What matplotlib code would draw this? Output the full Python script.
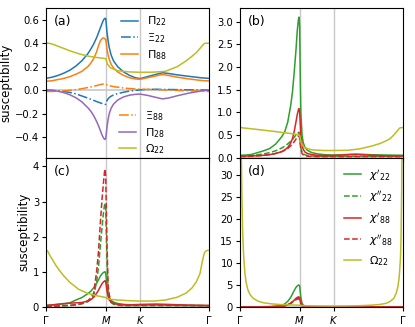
import numpy as np
import matplotlib
matplotlib.use("Agg")
import matplotlib.pyplot as plt

# path Gamma-M-K-Gamma, in units of |Gamma M|
path_ticks = [0, 1.0, 1.577, 2.732]
path_labels = [r'$\Gamma$', r'$M$', r'$K$', r'$\Gamma$']

# sample positions along the path
xq = [0, 0.1, 0.2, 0.3, 0.4, 0.5, 0.6, 0.7, 0.75, 0.8,
      0.85, 0.88, 0.91, 0.94, 0.96, 0.98, 0.99, 1.0, 1.01, 1.02,
      1.04, 1.06, 1.09, 1.13, 1.2, 1.3, 1.4, 1.5, 1.577, 1.7,
      1.85, 1.95, 2.05, 2.2, 2.4, 2.6, 2.732]
xom = [0, 0.01, 0.02, 0.03, 0.045, 0.06, 0.08, 0.1, 0.13, 0.17,
       0.22, 0.3, 0.4, 0.55, 0.7, 0.85, 0.95, 1.0, 1.03, 1.08,
       1.2, 1.4, 1.577, 1.8, 2.0, 2.2, 2.35, 2.45, 2.52, 2.58,
       2.62, 2.65, 2.67, 2.69, 2.70, 2.71, 2.72, 2.732]

# panel (a)
pi22 = [0.10, 0.11, 0.125, 0.145, 0.17, 0.205, 0.25, 0.31, 0.35, 0.395,
        0.45, 0.49, 0.53, 0.57, 0.595, 0.61, 0.612, 0.61, 0.56, 0.5,
        0.42, 0.36, 0.30, 0.25, 0.20, 0.155, 0.125, 0.105, 0.098, 0.115,
        0.135, 0.148, 0.142, 0.13, 0.117, 0.105, 0.10]
xi22 = [0.0, -0.002, -0.006, -0.012, -0.02, -0.032, -0.05, -0.068, -0.078, -0.088,
        -0.098, -0.104, -0.109, -0.115, -0.119, -0.122, -0.123, -0.12, -0.105, -0.09,
        -0.075, -0.063, -0.052, -0.042, -0.03, -0.018, -0.008, -0.002, 0.002, 0.006,
        0.007, 0.006, 0.005, 0.004, 0.002, 0.001, 0.0]
pi88 = [0.075, 0.08, 0.09, 0.10, 0.115, 0.135, 0.16, 0.20, 0.23, 0.27,
        0.33, 0.38, 0.42, 0.44, 0.445, 0.44, 0.435, 0.43, 0.40, 0.35,
        0.30, 0.26, 0.22, 0.19, 0.155, 0.125, 0.105, 0.095, 0.092, 0.105,
        0.122, 0.133, 0.125, 0.11, 0.095, 0.082, 0.078]
xi88 = [-0.012, -0.011, -0.009, -0.006, -0.002, 0.004, 0.012, 0.022, 0.027, 0.033,
        0.039, 0.043, 0.047, 0.05, 0.052, 0.053, 0.053, 0.052, 0.048, 0.045,
        0.041, 0.038, 0.034, 0.03, 0.025, 0.018, 0.013, 0.01, 0.008, 0.006,
        0.004, 0.002, 0.0, -0.003, -0.006, -0.01, -0.012]
pi28 = [0.0, -0.003, -0.01, -0.022, -0.04, -0.065, -0.10, -0.15, -0.18, -0.22,
        -0.27, -0.305, -0.345, -0.385, -0.405, -0.42, -0.42, -0.41, -0.37, -0.32,
        -0.25, -0.20, -0.155, -0.12, -0.085, -0.058, -0.043, -0.036, -0.034, -0.045,
        -0.063, -0.075, -0.068, -0.048, -0.025, -0.008, 0.0]
om_a = [0.40, 0.40, 0.40, 0.40, 0.399, 0.398, 0.396, 0.393, 0.388, 0.38,
        0.37, 0.355, 0.335, 0.31, 0.29, 0.278, 0.272, 0.268, 0.22, 0.19,
        0.165, 0.155, 0.152, 0.153, 0.16, 0.20, 0.25, 0.29, 0.32, 0.355,
        0.38, 0.395, 0.40, 0.40, 0.40, 0.40, 0.40, 0.40]

# panel (b)
chi1_22_b = [0.05, 0.055, 0.07, 0.11, 0.15, 0.20, 0.30, 0.46, 0.57, 0.78,
             1.15, 1.45, 1.9, 2.4, 2.8, 3.05, 3.1, 2.9, 1.8, 1.0,
             0.5, 0.33, 0.22, 0.16, 0.11, 0.08, 0.065, 0.058, 0.055, 0.06,
             0.07, 0.075, 0.07, 0.062, 0.056, 0.052, 0.05]
chi2_22_b = [0.03, 0.035, 0.045, 0.06, 0.08, 0.11, 0.15, 0.21, 0.25, 0.30,
             0.36, 0.40, 0.45, 0.50, 0.53, 0.55, 0.56, 0.50, 0.35, 0.22,
             0.12, 0.08, 0.06, 0.045, 0.035, 0.03, 0.03, 0.03, 0.03, 0.03,
             0.03, 0.03, 0.03, 0.03, 0.03, 0.03, 0.03]
chi1_88_b = [0.03, 0.032, 0.036, 0.042, 0.05, 0.065, 0.09, 0.13, 0.17, 0.22,
             0.32, 0.42, 0.58, 0.80, 0.95, 1.06, 1.08, 1.0, 0.75, 0.5,
             0.28, 0.18, 0.12, 0.09, 0.065, 0.05, 0.045, 0.045, 0.047, 0.055,
             0.065, 0.068, 0.063, 0.05, 0.04, 0.035, 0.03]
chi2_88_b = [0.02, 0.022, 0.028, 0.036, 0.048, 0.065, 0.09, 0.13, 0.16, 0.20,
             0.26, 0.30, 0.35, 0.41, 0.45, 0.48, 0.48, 0.42, 0.30, 0.18,
             0.09, 0.06, 0.04, 0.03, 0.025, 0.02, 0.02, 0.02, 0.02, 0.02,
             0.02, 0.02, 0.02, 0.02, 0.02, 0.02, 0.02]
om_b = [0.66, 0.66, 0.66, 0.658, 0.655, 0.653, 0.65, 0.647, 0.643, 0.637,
        0.63, 0.618, 0.603, 0.58, 0.555, 0.53, 0.51, 0.49, 0.30, 0.22,
        0.17, 0.155, 0.155, 0.16, 0.19, 0.25, 0.31, 0.37, 0.42, 0.50,
        0.56, 0.61, 0.64, 0.66, 0.66, 0.66, 0.66, 0.66]

# panel (c)
chi1_22_c = [0.05, 0.06, 0.075, 0.09, 0.12, 0.20, 0.27, 0.38, 0.45, 0.55,
             0.68, 0.78, 0.88, 0.95, 0.98, 1.0, 1.0, 0.97, 0.8, 0.6,
             0.38, 0.27, 0.19, 0.14, 0.10, 0.075, 0.065, 0.06, 0.06, 0.06,
             0.06, 0.058, 0.055, 0.05, 0.045, 0.04, 0.04]
chi2_22_c = [0.02, 0.025, 0.03, 0.035, 0.045, 0.06, 0.09, 0.15, 0.22, 0.33,
             0.75, 1.15, 1.75, 2.3, 2.65, 2.9, 2.95, 2.8, 2.1, 1.4,
             0.5, 0.28, 0.13, 0.08, 0.05, 0.04, 0.04, 0.04, 0.04, 0.04,
             0.04, 0.04, 0.04, 0.04, 0.04, 0.04, 0.04]
chi1_88_c = [0.04, 0.06, 0.08, 0.10, 0.11, 0.12, 0.13, 0.17, 0.21, 0.28,
             0.40, 0.48, 0.58, 0.67, 0.71, 0.74, 0.75, 0.72, 0.6, 0.47,
             0.30, 0.20, 0.14, 0.10, 0.08, 0.065, 0.06, 0.07, 0.075, 0.08,
             0.085, 0.08, 0.075, 0.065, 0.055, 0.05, 0.045]
chi2_88_c = [0.02, 0.025, 0.03, 0.04, 0.05, 0.07, 0.10, 0.18, 0.26, 0.40,
             1.05, 1.6, 2.4, 3.1, 3.5, 3.85, 3.92, 3.7, 2.8, 1.9,
             0.6, 0.35, 0.15, 0.1, 0.07, 0.05, 0.045, 0.05, 0.055, 0.06,
             0.065, 0.06, 0.055, 0.05, 0.045, 0.04, 0.035]
om_c = [1.61, 1.61, 1.60, 1.58, 1.53, 1.48, 1.42, 1.37, 1.28, 1.17,
        1.05, 0.88, 0.70, 0.50, 0.39, 0.32, 0.29, 0.27, 0.24, 0.22,
        0.20, 0.18, 0.17, 0.17, 0.20, 0.28, 0.40, 0.55, 0.72, 0.95,
        1.30, 1.52, 1.58, 1.60, 1.61, 1.61, 1.61, 1.61]

# panel (d)
chi1_22_d = [0.02, 0.03, 0.04, 0.06, 0.08, 0.12, 0.2, 0.4, 0.7, 1.3,
             2.2, 3.0, 3.8, 4.5, 4.8, 5.0, 5.0, 4.8, 3.5, 2.2,
             0.9, 0.45, 0.25, 0.15, 0.1, 0.07, 0.05, 0.05, 0.05, 0.05,
             0.05, 0.05, 0.05, 0.05, 0.05, 0.05, 0.05]
chi2_22_d = [0.01, 0.015, 0.02, 0.03, 0.04, 0.06, 0.1, 0.2, 0.3, 0.5,
             0.8, 1.1, 1.4, 1.65, 1.75, 1.8, 1.8, 1.7, 1.2, 0.7,
             0.3, 0.15, 0.08, 0.05, 0.04, 0.03, 0.03, 0.03, 0.03, 0.03,
             0.03, 0.03, 0.03, 0.03, 0.03, 0.03, 0.03]
chi1_88_d = [0.02, 0.025, 0.03, 0.04, 0.05, 0.07, 0.1, 0.15, 0.25, 0.45,
             0.85, 1.2, 1.6, 2.0, 2.2, 2.3, 2.3, 2.1, 1.5, 0.9,
             0.4, 0.2, 0.12, 0.08, 0.06, 0.05, 0.05, 0.05, 0.05, 0.05,
             0.05, 0.05, 0.05, 0.05, 0.05, 0.05, 0.05]
chi2_88_d = [0.01, 0.015, 0.02, 0.03, 0.04, 0.06, 0.1, 0.2, 0.3, 0.5,
             0.9, 1.25, 1.6, 1.85, 1.95, 2.0, 2.0, 1.9, 1.3, 0.8,
             0.3, 0.15, 0.08, 0.05, 0.04, 0.03, 0.03, 0.03, 0.03, 0.03,
             0.03, 0.03, 0.03, 0.03, 0.03, 0.03, 0.03]
om_d = [90, 60, 38, 26, 17, 12, 8.0, 5.8, 4.0, 2.8,
        2.0, 1.35, 0.95, 0.7, 0.55, 0.48, 0.44, 0.42, 0.36, 0.31,
        0.27, 0.25, 0.24, 0.26, 0.30, 0.42, 0.60, 0.85, 1.3, 2.0,
        3.2, 4.8, 7.0, 11, 16, 26, 45, 90]

plt.rcParams['font.family'] = 'DejaVu Sans'
plt.rcParams['mathtext.fontset'] = 'dejavusans'
lw = 1.1
grey = '#c8c8c8'

fig, axs = plt.subplots(2, 2, figsize=(4.15, 3.27), dpi=100, sharex=True)
fig.subplots_adjust(left=0.111, right=0.971, top=0.9755, bottom=0.061,
                    hspace=0, wspace=0.19)

for ax in axs.flat:
    ax.axvline(1.0, color=grey, lw=1, zorder=0)
    ax.axvline(1.577, color=grey, lw=1, zorder=0)
    ax.axhline(0, color=grey, lw=1.2, zorder=0)
    ax.set_xlim(0, 2.732)
    ax.set_xticks(path_ticks)
    ax.tick_params(labelsize=7.2, length=3, pad=2)
axs[1, 0].set_xticklabels(path_labels)

# (a)
ax = axs[0, 0]
l1, = ax.plot(xq, pi22, color='C0', lw=lw, label=r'$\Pi_{22}$')
l2, = ax.plot(xq, xi22, color='C0', lw=lw, ls='-.', label=r'$\Xi_{22}$')
l3, = ax.plot(xq, pi88, color='C1', lw=lw, label=r'$\Pi_{88}$')
l4, = ax.plot(xq, xi88, color='C1', lw=lw, ls='-.', label=r'$\Xi_{88}$')
l5, = ax.plot(xq, pi28, color='C4', lw=lw, label=r'$\Pi_{28}$')
l6, = ax.plot(xom, om_a, color='C8', lw=lw, label=r'$\Omega_{22}$')
ax.set_ylim(-0.575, 0.70)
ax.set_yticks([-0.4, -0.2, 0.0, 0.2, 0.4, 0.6])
ax.set_ylabel('susceptibility', fontsize=8.5, labelpad=2)
leg1 = ax.legend(handles=[l1, l2, l3], loc='upper left', bbox_to_anchor=(0.42, 1.0),
                 frameon=False, fontsize=8, handlelength=1.5, borderaxespad=0.2,
                 labelspacing=0.25)
ax.add_artist(leg1)
ax.legend(handles=[l4, l5, l6], loc='lower left', bbox_to_anchor=(0.42, -0.02),
          frameon=False, fontsize=8, handlelength=1.5, borderaxespad=0.0,
          labelspacing=0.25)

# (b), (c), (d)
panels = [
    (axs[0, 1], chi1_22_b, chi2_22_b, chi1_88_b, chi2_88_b, om_b, (0, 3.3),
     [0.0, 0.5, 1.0, 1.5, 2.0, 2.5, 3.0]),
    (axs[1, 0], chi1_22_c, chi2_22_c, chi1_88_c, chi2_88_c, om_c, (0, 4.25),
     [0, 1, 2, 3, 4]),
    (axs[1, 1], chi1_22_d, chi2_22_d, chi1_88_d, chi2_88_d, om_d, (0, 34),
     [0, 5, 10, 15, 20, 25, 30]),
]
for ax, c1g, c2g, c1r, c2r, om, yl, yt in panels:
    ax.plot(xq, c1g, color='C2', lw=lw, label=r"$\chi'_{22}$")
    ax.plot(xq, c2g, color='C2', lw=lw, ls='--', label=r"$\chi''_{22}$")
    ax.plot(xq, c1r, color='C3', lw=lw, label=r"$\chi'_{88}$")
    ax.plot(xq, c2r, color='C3', lw=lw, ls='--', label=r"$\chi''_{88}$")
    ax.plot(xom, om, color='C8', lw=lw, label=r'$\Omega_{22}$')
    ax.set_ylim(*yl)
    ax.set_yticks(yt)
axs[1, 0].set_ylabel('susceptibility', fontsize=8.5, labelpad=2)
axs[1, 1].legend(loc='upper right', frameon=False, fontsize=8, handlelength=1.5,
                 borderaxespad=0.5, labelspacing=0.6)

for ax, lab in zip(axs.flat, ['(a)', '(b)', '(c)', '(d)']):
    ax.text(0.05, 0.95, lab, transform=ax.transAxes, fontsize=9, va='top', ha='left')

fig.savefig('out.png', dpi=100)
